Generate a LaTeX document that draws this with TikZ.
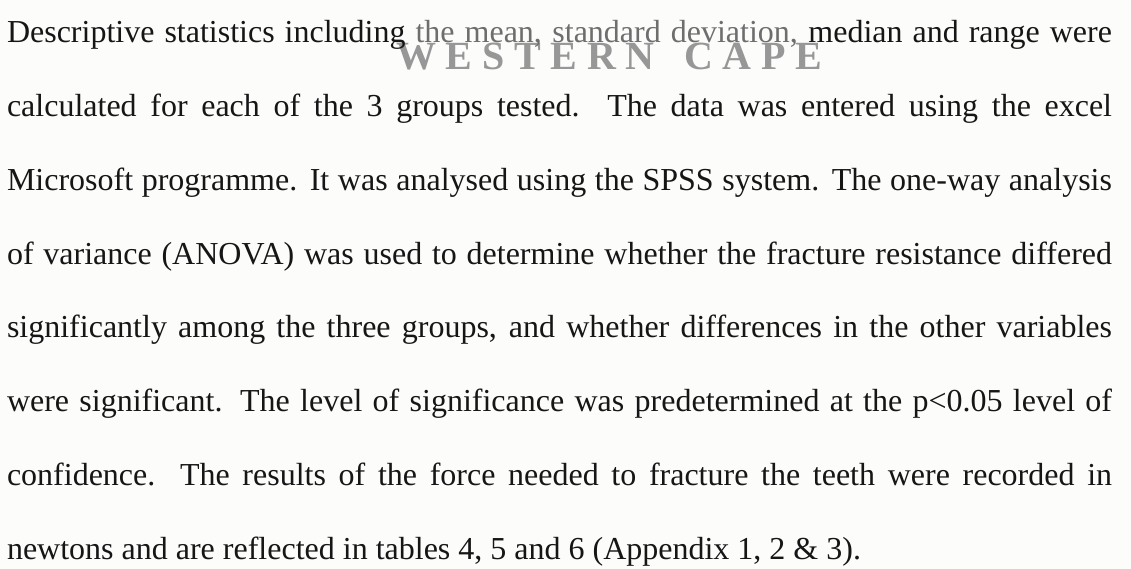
\documentclass[tikz,border=0pt]{standalone}
\usepackage{fontspec}
\setmainfont{Liberation Serif}
\newfontfamily\wmfont{Liberation Serif Bold}
\definecolor{paper}{HTML}{FCFCFB}
\definecolor{ink}{HTML}{161616}
\definecolor{faded}{HTML}{6E6E6E}
\definecolor{stamp}{HTML}{979797}
\newcommand{\bodyfont}{\fontsize{32}{38}\selectfont}
\newcommand{\jline}[1]{\makebox[1105pt][s]{#1}}
\tikzset{
  textline/.style={anchor=base west, inner sep=0pt, outer sep=0pt, text=ink, font=\bodyfont},
  lastline/.style={textline},
  stampmark/.style={anchor=base west, inner sep=0pt, text=stamp, font=\wmfont\fontsize{40}{44}\selectfont}
}
\begin{document}
\begin{tikzpicture}[x=1pt,y=1pt]
  % page
  \fill[paper] (0,0) rectangle (1131,-569);
  \useasboundingbox (0,0) rectangle (1131,-569);
  % faint institution stamp just under the first line
  \node[stampmark] (wm) at (396,-70)
    {\makebox[426pt][s]{W\hfill E\hfill S\hfill T\hfill E\hfill R\hfill N\hfill\hfill\hfill C\hfill A\hfill P\hfill E}};
  % paragraph, one justified line per node
  \node[textline] (l1) at (7,-43) {\jline{Descriptive statistics including {\color{faded}the mean, standard deviation,} median and range were}};
  \node[textline] (l2) at (7,-116.7) {\jline{calculated for each of the 3 groups tested. The data was entered using the excel}};
  \node[textline] (l3) at (7,-190.4) {\jline{Microsoft programme. It was analysed using the SPSS system. The one-way analysis}};
  \node[textline] (l4) at (7,-264.1) {\jline{of variance (ANOVA) was used to determine whether the fracture resistance differed}};
  \node[textline] (l5) at (7,-337.8) {\jline{significantly among the three groups, and whether differences in the other variables}};
  \node[textline] (l6) at (7,-411.5) {\jline{were significant. The level of significance was predetermined at the p<0.05 level of}};
  \node[textline] (l7) at (7,-485.2) {\jline{confidence. The results of the force needed to fracture the teeth were recorded in}};
  \node[lastline] (l8) at (7,-559) {newtons and are reflected in tables 4, 5 and 6 (Appendix 1, 2 \& 3).};
\end{tikzpicture}
\end{document}
